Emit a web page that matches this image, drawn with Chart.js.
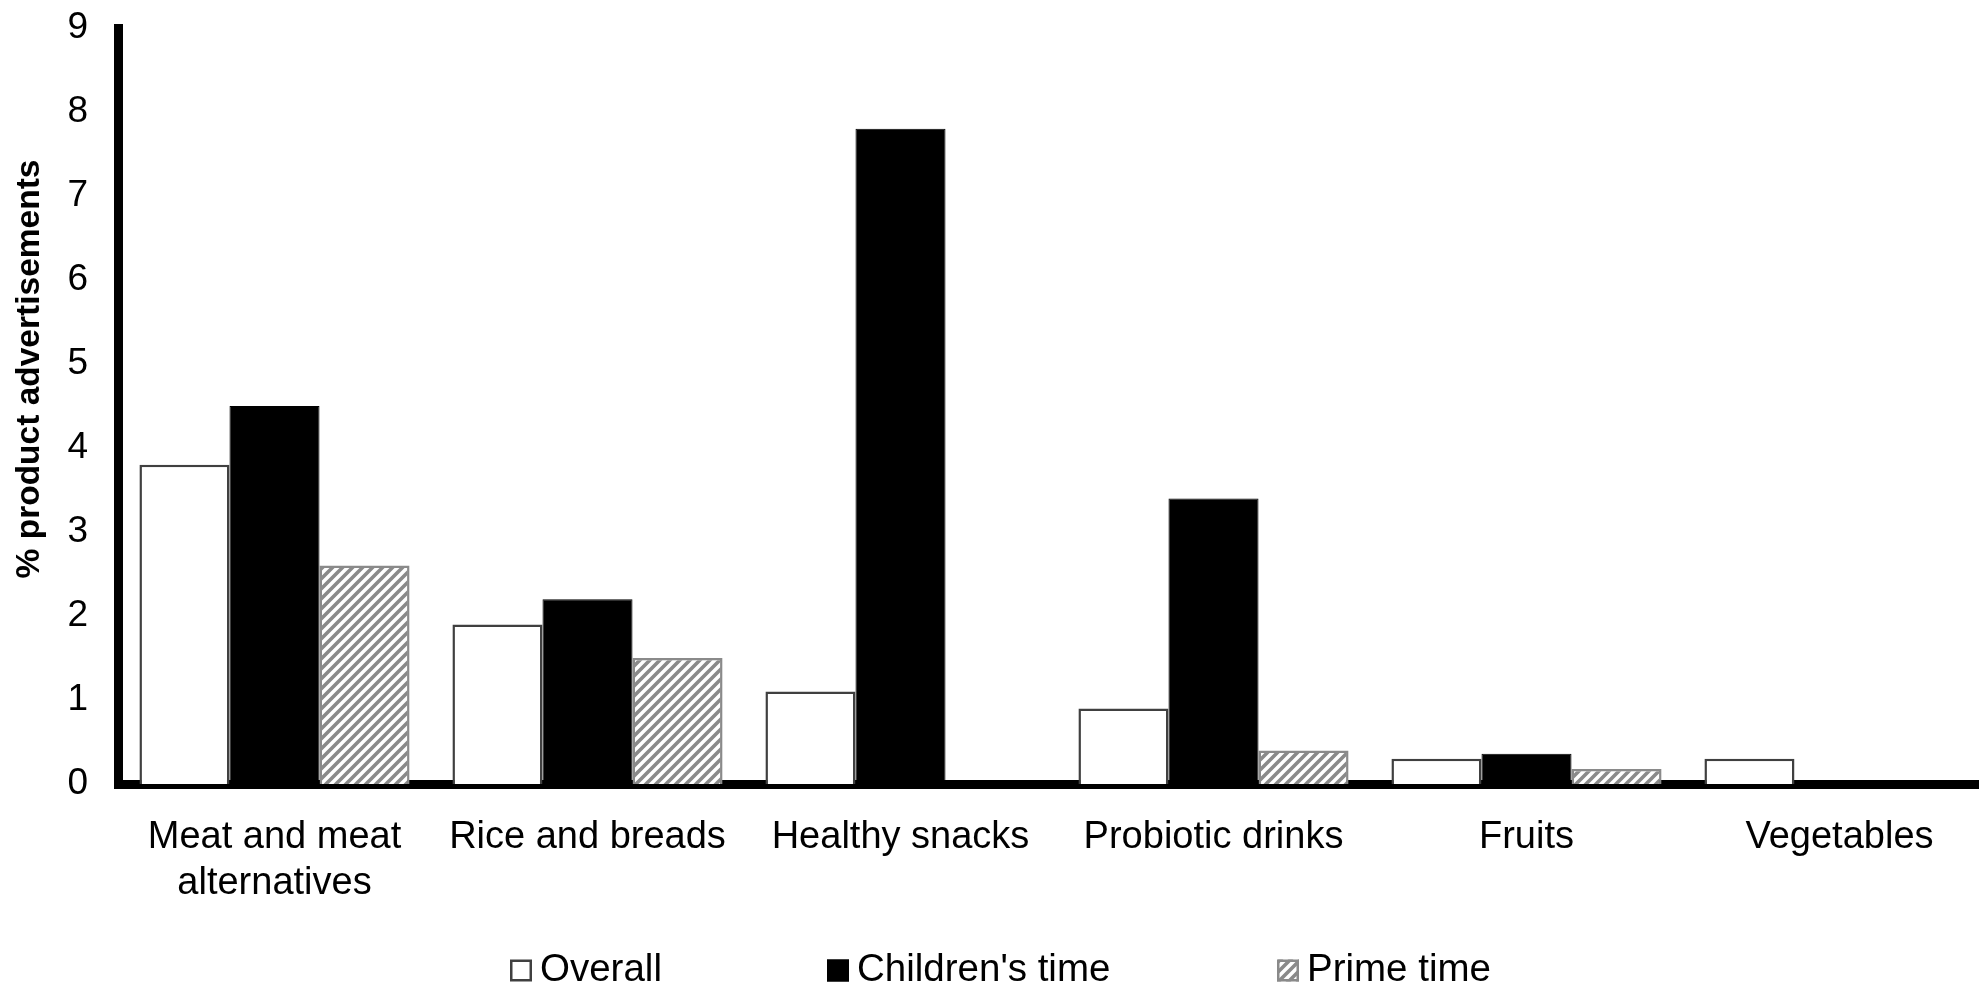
<!DOCTYPE html>
<html>
<head>
<meta charset="utf-8">
<title>Product advertisements by food category</title>
<script src="https://cdn.jsdelivr.net/npm/chart.js@4.4.1/dist/chart.umd.min.js"></script>
<style>
  html, body { margin: 0; padding: 0; background: #fff; overflow: hidden; }
  #wrap { position: relative; width: 1979px; height: 988px; overflow: hidden; }
  canvas { display: block; }
</style>
</head>
<body>
<div id="wrap"><canvas id="chart" width="1996" height="988"></canvas></div>
<script>
// Food categories (multi-line labels are arrays of lines)
const categories = [
  ["Meat and meat", "alternatives"],
  "Rice and breads",
  "Healthy snacks",
  "Probiotic drinks",
  "Fruits",
  "Vegetables"
];

// Share of product advertisements (%) per category
const overall       = [3.8, 1.9, 1.1, 0.9, 0.3, 0.3];
const childrensTime = [4.5, 2.2, 7.8, 3.4, 0.36, 0];
const primeTime     = [2.6, 1.5, 0, 0.4, 0.18, 0];

const seriesNames = ["Overall", "Children's time", "Prime time"];
const yTickValues = [0, 1, 2, 3, 4, 5, 6, 7, 8, 9];
const yAxisTitle = "% product advertisements";

const FONT = "'Liberation Sans', Arial, Helvetica, sans-serif";
Chart.defaults.font.family = FONT;
Chart.defaults.color = '#000';

// Diagonal hatch fill for the prime-time bars
function makeHatch() {
  const size = 10;
  const c = document.createElement('canvas');
  c.width = size; c.height = size;
  const g = c.getContext('2d');
  g.fillStyle = '#ffffff';
  g.fillRect(0, 0, size, size);
  g.strokeStyle = '#8a8a8a';
  g.lineWidth = 3.6;
  g.beginPath();
  g.moveTo(-2, size + 2); g.lineTo(size + 2, -2);
  g.moveTo(-2, 2); g.lineTo(2, -2);
  g.moveTo(size - 2, size + 2); g.lineTo(size + 2, size - 2);
  g.stroke();
  return g.createPattern(c, 'repeat');
}
const hatch = makeHatch();

// Rotated y-axis caption, placed beside the tick labels
const axisCaption = {
  id: 'axisCaption',
  afterDraw(chart, args, opts) {
    const ctx = chart.ctx;
    ctx.save();
    ctx.translate(opts.x, opts.y);
    ctx.rotate(-Math.PI / 2);
    ctx.font = opts.font;
    ctx.fillStyle = '#000';
    ctx.textAlign = 'center';
    ctx.textBaseline = 'middle';
    ctx.fillText(yAxisTitle, 0, 0);
    ctx.restore();
  }
};

// Legend row under the axis labels, using each dataset's own fill and border
const bottomLegend = {
  id: 'bottomLegend',
  afterDraw(chart, args, opts) {
    const ctx = chart.ctx;
    ctx.save();
    ctx.font = opts.font;
    ctx.textBaseline = 'middle';
    ctx.textAlign = 'left';
    chart.data.datasets.forEach((ds, i) => {
      const x = opts.boxX[i];
      const s = opts.boxSize;
      const top = opts.centerY - s / 2;
      ctx.fillStyle = ds.backgroundColor;
      ctx.fillRect(x, top, s, s);
      ctx.lineWidth = ds.borderWidth;
      ctx.strokeStyle = ds.borderColor;
      const inset = ds.borderWidth / 2;
      ctx.strokeRect(x + inset, top + inset, s - 2 * inset, s - 2 * inset);
      ctx.fillStyle = '#000';
      ctx.fillText(ds.label, x + s + opts.gap, opts.centerY);
    });
    ctx.restore();
  }
};

new Chart(document.getElementById('chart'), {
  type: 'bar',
  data: {
    labels: categories,
    datasets: [
      {
        label: seriesNames[0],
        data: overall,
        backgroundColor: '#ffffff',
        borderColor: '#404040',
        borderWidth: 2.5
      },
      {
        label: seriesNames[1],
        data: childrensTime,
        backgroundColor: '#000000',
        borderColor: '#000000',
        borderWidth: 1
      },
      {
        label: seriesNames[2],
        data: primeTime,
        backgroundColor: hatch,
        borderColor: '#8a8a8a',
        borderWidth: 2.5
      }
    ]
  },
  options: {
    responsive: false,
    animation: false,
    devicePixelRatio: 1,
    layout: { padding: { left: 17, right: 0, top: 28, bottom: 0 } },
    datasets: {
      bar: { categoryPercentage: 0.863, barPercentage: 1.0, borderSkipped: 'bottom' }
    },
    plugins: {
      title: { display: false },
      tooltip: { enabled: false },
      legend: { display: false },
      axisCaption: { x: 29.5, y: 369, font: "bold 33.5px " + FONT },
      bottomLegend: {
        font: "38.5px " + FONT,
        boxX: [510, 827, 1277],
        boxSize: 22,
        gap: 8,
        centerY: 970.5
      }
    },
    scales: {
      x: {
        grid: { display: false, drawTicks: true, tickLength: 31 },
        border: { display: true, color: '#000', width: 9 },
        ticks: {
          color: '#000',
          padding: 0,
          maxRotation: 0,
          autoSkip: false,
          font: { size: 38, family: FONT, lineHeight: 1.2 }
        },
        afterFit(scale) { scale.height = 204; }
      },
      y: {
        min: 0,
        max: 9,
        afterBuildTicks(scale) { scale.ticks = yTickValues.map(v => ({ value: v })); },
        grid: { display: false, drawTicks: true, tickLength: 30 },
        border: { display: true, color: '#000', width: 9 },
        ticks: {
          color: '#000',
          padding: 0,
          font: { size: 37, family: FONT }
        },
        afterFit(scale) { scale.width = 101; }
      }
    }
  },
  plugins: [axisCaption, bottomLegend]
});
</script>
</body>
</html>
